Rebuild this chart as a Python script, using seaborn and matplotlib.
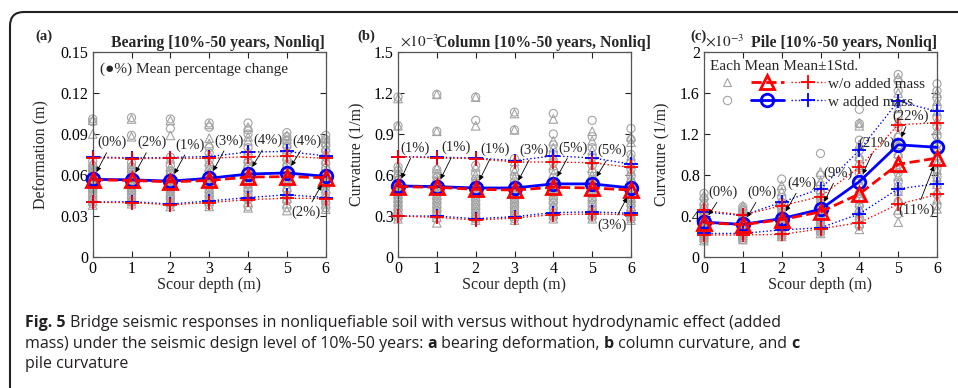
import matplotlib
matplotlib.use('Agg')
import matplotlib.pyplot as plt
import seaborn as sns
import pandas as pd
import numpy as np
from matplotlib.lines import Line2D
from matplotlib.patches import FancyBboxPatch
from matplotlib.transforms import IdentityTransform

# ---------------- data ----------------
depths = [0, 1, 2, 3, 4, 5, 6]

# (a) bearing deformation (m) - each record
bear_wo_each = [
    [0.100, 0.090, 0.069, 0.066, 0.063, 0.061, 0.059, 0.057, 0.055, 0.052, 0.050, 0.047, 0.044, 0.041, 0.038],
    [0.101, 0.088, 0.068, 0.065, 0.062, 0.060, 0.058, 0.056, 0.054, 0.051, 0.049, 0.046, 0.043, 0.041, 0.039],
    [0.100, 0.089, 0.072, 0.066, 0.063, 0.060, 0.057, 0.055, 0.052, 0.050, 0.047, 0.045, 0.042, 0.040, 0.037],
    [0.097, 0.087, 0.083, 0.075, 0.070, 0.066, 0.062, 0.059, 0.056, 0.053, 0.050, 0.047, 0.044, 0.041, 0.037],
    [0.095, 0.088, 0.085, 0.078, 0.072, 0.068, 0.064, 0.060, 0.057, 0.054, 0.051, 0.047, 0.044, 0.040, 0.036],
    [0.089, 0.086, 0.083, 0.079, 0.074, 0.069, 0.065, 0.061, 0.058, 0.055, 0.051, 0.047, 0.043, 0.039, 0.034],
    [0.087, 0.084, 0.080, 0.076, 0.071, 0.067, 0.063, 0.060, 0.057, 0.054, 0.050, 0.046, 0.042, 0.039, 0.035],
]
bear_w_each = [
    [0.101, 0.099, 0.070, 0.067, 0.064, 0.062, 0.060, 0.058, 0.055, 0.053, 0.050, 0.048, 0.045, 0.042, 0.039],
    [0.102, 0.089, 0.069, 0.066, 0.063, 0.060, 0.058, 0.056, 0.054, 0.052, 0.049, 0.047, 0.044, 0.041, 0.040],
    [0.101, 0.094, 0.073, 0.067, 0.063, 0.061, 0.058, 0.055, 0.053, 0.050, 0.048, 0.045, 0.043, 0.040, 0.038],
    [0.098, 0.095, 0.080, 0.076, 0.071, 0.067, 0.063, 0.060, 0.057, 0.054, 0.051, 0.048, 0.045, 0.042, 0.038],
    [0.098, 0.093, 0.090, 0.080, 0.074, 0.070, 0.066, 0.062, 0.059, 0.056, 0.053, 0.049, 0.046, 0.042, 0.037],
    [0.091, 0.088, 0.085, 0.081, 0.076, 0.071, 0.067, 0.063, 0.060, 0.057, 0.053, 0.049, 0.045, 0.041, 0.036],
    [0.089, 0.086, 0.082, 0.078, 0.073, 0.069, 0.065, 0.061, 0.058, 0.055, 0.051, 0.047, 0.043, 0.040, 0.036],
]
bear_wo_mean = [0.0565, 0.0560, 0.0550, 0.0560, 0.0585, 0.0588, 0.0580]
bear_w_mean = [0.0568, 0.0565, 0.0555, 0.0576, 0.0607, 0.0615, 0.0590]
bear_wo_hi = [0.0728, 0.0720, 0.0722, 0.0722, 0.0735, 0.0737, 0.0722]
bear_w_hi = [0.0732, 0.0725, 0.0728, 0.0735, 0.0768, 0.0772, 0.0740]
bear_wo_lo = [0.0400, 0.0398, 0.0382, 0.0398, 0.0420, 0.0430, 0.0428]
bear_w_lo = [0.0402, 0.0405, 0.0388, 0.0410, 0.0435, 0.0455, 0.0435]
bear_pct = ['(0%)', '(2%)', '(1%)', '(3%)', '(4%)', '(4%)', '(2%)']

# (b) column curvature (x1e-3 1/m)
col_wo_each = [
    [1.16, 0.96, 0.66, 0.62, 0.58, 0.55, 0.52, 0.49, 0.46, 0.43, 0.40, 0.37, 0.34, 0.31, 0.28],
    [1.19, 0.92, 0.65, 0.61, 0.57, 0.54, 0.51, 0.48, 0.45, 0.42, 0.39, 0.36, 0.33, 0.29, 0.25],
    [1.17, 0.96, 0.66, 0.60, 0.56, 0.53, 0.50, 0.47, 0.44, 0.41, 0.38, 0.35, 0.32, 0.29, 0.27],
    [1.05, 0.93, 0.70, 0.63, 0.58, 0.54, 0.51, 0.48, 0.45, 0.42, 0.39, 0.36, 0.33, 0.30, 0.27],
    [1.01, 0.85, 0.80, 0.74, 0.67, 0.61, 0.56, 0.52, 0.48, 0.45, 0.42, 0.38, 0.35, 0.31, 0.28],
    [0.92, 0.85, 0.78, 0.71, 0.65, 0.60, 0.55, 0.51, 0.47, 0.44, 0.40, 0.37, 0.34, 0.31, 0.28],
    [0.88, 0.84, 0.74, 0.68, 0.63, 0.58, 0.54, 0.50, 0.46, 0.43, 0.40, 0.37, 0.33, 0.30, 0.27],
]
col_w_each = [
    [1.17, 0.96, 0.66, 0.63, 0.59, 0.56, 0.53, 0.50, 0.47, 0.44, 0.41, 0.38, 0.35, 0.32, 0.29],
    [1.19, 0.92, 0.64, 0.61, 0.58, 0.55, 0.52, 0.49, 0.46, 0.43, 0.40, 0.37, 0.34, 0.31, 0.28],
    [1.17, 1.00, 0.67, 0.61, 0.57, 0.54, 0.51, 0.48, 0.45, 0.42, 0.39, 0.36, 0.33, 0.30, 0.28],
    [1.06, 0.93, 0.72, 0.64, 0.59, 0.55, 0.52, 0.49, 0.46, 0.43, 0.40, 0.37, 0.34, 0.31, 0.28],
    [1.05, 0.90, 0.82, 0.75, 0.69, 0.63, 0.58, 0.54, 0.50, 0.47, 0.43, 0.40, 0.36, 0.32, 0.29],
    [1.00, 0.88, 0.80, 0.73, 0.67, 0.62, 0.57, 0.53, 0.49, 0.46, 0.42, 0.39, 0.35, 0.32, 0.29],
    [0.94, 0.86, 0.75, 0.69, 0.64, 0.59, 0.55, 0.51, 0.48, 0.44, 0.41, 0.38, 0.34, 0.31, 0.28],
]
col_wo_mean = [0.515, 0.510, 0.495, 0.490, 0.510, 0.505, 0.490]
col_w_mean = [0.520, 0.515, 0.505, 0.505, 0.535, 0.535, 0.505]
col_wo_hi = [0.735, 0.725, 0.720, 0.695, 0.695, 0.690, 0.655]
col_w_hi = [0.735, 0.730, 0.725, 0.705, 0.740, 0.725, 0.680]
col_wo_lo = [0.300, 0.290, 0.270, 0.285, 0.310, 0.315, 0.310]
col_w_lo = [0.300, 0.300, 0.280, 0.295, 0.325, 0.330, 0.320]
col_pct = ['(1%)', '(1%)', '(1%)', '(3%)', '(5%)', '(5%)', '(3%)']

# (c) pile curvature (x1e-3 1/m)
pile_wo_each = [
    [0.60, 0.55, 0.50, 0.46, 0.42, 0.39, 0.36, 0.33, 0.30, 0.28, 0.26, 0.24, 0.22, 0.19, 0.16],
    [0.50, 0.47, 0.44, 0.41, 0.38, 0.35, 0.33, 0.31, 0.29, 0.27, 0.25, 0.23, 0.21, 0.19, 0.17],
    [0.70, 0.64, 0.56, 0.51, 0.47, 0.43, 0.40, 0.37, 0.34, 0.31, 0.29, 0.27, 0.25, 0.22, 0.20],
    [0.83, 0.74, 0.66, 0.60, 0.55, 0.50, 0.46, 0.43, 0.40, 0.37, 0.34, 0.31, 0.29, 0.26, 0.23],
    [1.31, 1.28, 1.10, 0.98, 0.88, 0.80, 0.72, 0.65, 0.59, 0.53, 0.48, 0.43, 0.38, 0.33, 0.27],
    [1.75, 1.60, 1.45, 1.32, 1.20, 1.10, 1.01, 0.93, 0.86, 0.79, 0.72, 0.64, 0.56, 0.46, 0.34],
    [1.60, 1.52, 1.42, 1.33, 1.24, 1.15, 1.07, 0.99, 0.92, 0.85, 0.78, 0.71, 0.64, 0.56, 0.47],
]
pile_w_each = [
    [0.62, 0.57, 0.51, 0.47, 0.43, 0.40, 0.37, 0.34, 0.31, 0.29, 0.27, 0.25, 0.22, 0.20, 0.17],
    [0.49, 0.46, 0.43, 0.40, 0.37, 0.35, 0.33, 0.31, 0.29, 0.27, 0.25, 0.23, 0.21, 0.19, 0.17],
    [0.76, 0.66, 0.58, 0.53, 0.48, 0.44, 0.41, 0.38, 0.35, 0.32, 0.30, 0.28, 0.25, 0.23, 0.20],
    [1.01, 0.80, 0.70, 0.63, 0.58, 0.53, 0.49, 0.45, 0.42, 0.39, 0.36, 0.33, 0.30, 0.27, 0.24],
    [1.44, 1.30, 1.14, 1.04, 0.96, 0.89, 0.82, 0.75, 0.69, 0.62, 0.56, 0.50, 0.44, 0.37, 0.30],
    [1.78, 1.72, 1.62, 1.50, 1.38, 1.27, 1.17, 1.08, 0.99, 0.90, 0.82, 0.73, 0.64, 0.54, 0.42],
    [1.69, 1.62, 1.55, 1.46, 1.36, 1.27, 1.18, 1.10, 1.02, 0.94, 0.86, 0.78, 0.70, 0.61, 0.50],
]
pile_wo_mean = [0.335, 0.315, 0.365, 0.440, 0.615, 0.905, 0.965]
pile_w_mean = [0.340, 0.318, 0.375, 0.465, 0.735, 1.095, 1.070]
pile_wo_hi = [0.455, 0.410, 0.500, 0.590, 0.875, 1.290, 1.310]
pile_w_hi = [0.440, 0.405, 0.535, 0.665, 1.040, 1.520, 1.420]
pile_wo_lo = [0.215, 0.215, 0.220, 0.275, 0.335, 0.515, 0.610]
pile_w_lo = [0.230, 0.230, 0.265, 0.285, 0.420, 0.665, 0.715]
pile_pct = ['(0%)', '(0%)', '(4%)', '(9%)', '(21%)', '(22%)', '(11%)']

# ---------------- style ----------------
sns.set_theme(style='ticks')
plt.rcParams['font.family'] = ['Liberation Serif', 'DejaVu Serif']
plt.rcParams['mathtext.fontset'] = 'stix'
GRAY = '#a3a3a3'
RED = '#ff0000'
BLUE = '#0000ff'

fig = plt.figure(figsize=(9.58, 3.88), dpi=100)
W, H = 958.0, 388.0


def add_panel(left_px):
    return fig.add_axes([left_px / W, 1 - 257 / H, 233 / W, 205 / H])


def long_df(each):
    return pd.DataFrame({
        'depth': np.repeat(depths, [len(v) for v in each]),
        'value': np.concatenate(each),
    })


def draw(ax, wo_each, w_each, wo_mean, w_mean, wo_hi, w_hi, wo_lo, w_lo, ymax, yticks):
    sns.scatterplot(data=long_df(wo_each), x='depth', y='value', marker='^', s=38,
                    facecolor='none', edgecolor=GRAY, linewidth=0.8, ax=ax,
                    clip_on=False, zorder=1, legend=False)
    sns.scatterplot(data=long_df(w_each), x='depth', y='value', marker='o', s=34,
                    facecolor='none', edgecolor=GRAY, linewidth=0.8, ax=ax,
                    clip_on=False, zorder=1, legend=False)
    for ys, c in [(w_hi, BLUE), (w_lo, BLUE), (wo_hi, RED), (wo_lo, RED)]:
        sns.lineplot(x=depths, y=ys, color=c, lw=1.0, ls=':', marker='+', ms=10,
                     mec=c, mew=1.3, ax=ax, clip_on=False, zorder=3, estimator=None)
    sns.lineplot(x=depths, y=w_mean, color=BLUE, lw=2, marker='o', ms=9, mfc='none',
                 mec=BLUE, mew=2, ax=ax, clip_on=False, zorder=4, estimator=None)
    sns.lineplot(x=depths, y=wo_mean, color=RED, lw=2, ls='--', marker='^', ms=9.5,
                 mfc='none', mec=RED, mew=2, ax=ax, clip_on=False, zorder=5, estimator=None)
    ax.set_xlim(0, 6)
    ax.set_ylim(0, ymax)
    ax.set_xticks(depths)
    ax.set_yticks(yticks)
    ax.tick_params(direction='in', top=True, right=True, length=4, width=0.8,
                   labelsize=11.5, pad=3, colors='#222222', labelcolor='black')
    for s in ax.spines.values():
        s.set_color('#555555')
        s.set_linewidth(0.9)
    ax.set_xlabel('Scour depth (m)', fontsize=11.5)
    ax.xaxis.set_label_coords(0.5, -0.098)


def annotate(ax, labels, text_pos, target_means):
    for i, lab in enumerate(labels):
        tm = target_means[i]
        ax.annotate(lab, xy=(depths[i], tm[i]), xytext=text_pos[i], textcoords='data',
                    fontsize=10.5, ha='center', va='center', zorder=6,
                    arrowprops=dict(arrowstyle='-|>', color='black', lw=0.6,
                                    mutation_scale=7, shrinkA=0, shrinkB=6))


# (a)
ax1 = add_panel(92.7)
draw(ax1, bear_wo_each, bear_w_each, bear_wo_mean, bear_w_mean, bear_wo_hi, bear_w_hi,
     bear_wo_lo, bear_w_lo, 0.15, [0, 0.03, 0.06, 0.09, 0.12, 0.15])
ax1.set_yticklabels(['0', '0.03', '0.06', '0.09', '0.12', '0.15'])
ax1.set_ylabel('Deformation (m)', fontsize=11.5)
ax1.yaxis.set_label_coords(-0.185, 0.5)
annotate(ax1, bear_pct,
         [(0.49, 0.0836), (1.52, 0.0836), (2.51, 0.082), (3.52, 0.085), (4.52, 0.0856),
          (5.51, 0.085), (5.5, 0.033)],
         [bear_w_mean] * 6 + [bear_wo_mean])
ax1.text(0.031, 0.917, '(\u25cf%) Mean percentage change', transform=ax1.transAxes,
         fontsize=11, va='center', ha='left')
ax1.text(-0.248, 1.058, '(a)', transform=ax1.transAxes, fontsize=10.5, fontweight='bold')
ax1.text(0.997, 1.026, 'Bearing [10%-50 years, Nonliq]', transform=ax1.transAxes,
         fontsize=11.3, fontweight='bold', ha='right')

# (b)
ax2 = add_panel(398)
draw(ax2, col_wo_each, col_w_each, col_wo_mean, col_w_mean, col_wo_hi, col_w_hi,
     col_wo_lo, col_w_lo, 1.5, [0, 0.3, 0.6, 0.9, 1.2, 1.5])
ax2.set_yticklabels(['0', '0.3', '0.6', '0.9', '1.2', '1.5'])
ax2.set_ylabel('Curvature (1/m)', fontsize=11.5)
ax2.yaxis.set_label_coords(-0.139, 0.5)
annotate(ax2, col_pct,
         [(0.44, 0.795), (1.5, 0.80), (2.49, 0.788), (3.51, 0.783), (4.5, 0.795),
          (5.52, 0.778), (5.52, 0.234)],
         [col_w_mean] * 6 + [col_wo_mean])
ax2.text(-0.176, 1.058, '(b)', transform=ax2.transAxes, fontsize=10.5, fontweight='bold')
ax2.text(0.009, 1.026, r'$\times10^{-3}$', transform=ax2.transAxes, fontsize=11)
ax2.text(0.165, 1.026, 'Column [10%-50 years, Nonliq]', transform=ax2.transAxes,
         fontsize=11.3, fontweight='bold', ha='left')

# (c)
ax3 = add_panel(704)
draw(ax3, pile_wo_each, pile_w_each, pile_wo_mean, pile_w_mean, pile_wo_hi, pile_w_hi,
     pile_wo_lo, pile_w_lo, 2.0, [0, 0.4, 0.8, 1.2, 1.6, 2.0])
ax3.set_yticklabels(['0', '0.4', '0.8', '1.2', '1.6', '2'])
ax3.set_ylabel('Curvature (1/m)', fontsize=11.5)
ax3.yaxis.set_label_coords(-0.144, 0.5)
annotate(ax3, pile_pct,
         [(0.5, 0.631), (1.49, 0.63), (2.52, 0.72), (3.46, 0.817), (4.45, 1.11),
          (5.31, 1.37), (5.48, 0.46)],
         [pile_w_mean] * 6 + [pile_wo_mean])
ax3.text(-0.06, 1.058, '(c)', transform=ax3.transAxes, fontsize=10.5, fontweight='bold')
ax3.text(0.004, 1.026, r'$\times10^{-3}$', transform=ax3.transAxes, fontsize=11)
ax3.text(1.0, 1.026, 'Pile [10%-50 years, Nonliq]', transform=ax3.transAxes,
         fontsize=11.3, fontweight='bold', ha='right')

handles = [
    Line2D([], [], ls='none', marker='^', mfc='none', mec=GRAY, ms=6, mew=0.8),
    Line2D([], [], ls='none', marker='o', mfc='none', mec=GRAY, ms=6, mew=0.8),
    Line2D([], [], color=RED, ls='--', lw=2, marker='^', mfc='none', mec=RED, mew=2, ms=9.5),
    Line2D([], [], color=BLUE, ls='-', lw=2, marker='o', mfc='none', mec=BLUE, mew=2, ms=9),
    Line2D([], [], color=RED, ls=':', lw=1, marker='+', ms=10, mew=1.3),
    Line2D([], [], color=BLUE, ls=':', lw=1, marker='+', ms=10, mew=1.3),
]
ax3.legend(handles, ['', '', '', '', 'w/o added mass', 'w added mass'], ncol=3,
           title='Each Mean Mean\u00b11Std.', alignment='left', frameon=False,
           loc='upper left', bbox_to_anchor=(0.026, 0.962), borderaxespad=0, borderpad=0,
           handlelength=2.2, handletextpad=0.2, columnspacing=0.25, labelspacing=0.28,
           fontsize=11, title_fontsize=11)

# frame and caption
frame = FancyBboxPatch((10, -60), 1000, 376 + 60, boxstyle='round,pad=0,rounding_size=14',
                       transform=IdentityTransform(), fill=False, edgecolor='#222222', lw=1.5)
fig.add_artist(frame)

cap_font = ['Open Sans', 'DejaVu Sans']
cap_lines = [
    [('Fig. 5', 'bold'), (' Bridge seismic responses in nonliquefiable soil with versus without '
                         'hydrodynamic effect (added', 'normal')],
    [('mass) under the seismic design level of 10%-50 years: ', 'normal'), ('a', 'bold'),
     (' bearing deformation, ', 'normal'), ('b', 'bold'), (' column curvature, and ', 'normal'),
     ('c', 'bold')],
    [('pile curvature', 'normal')],
]
cap_base = [326.7, 347.7, 368.3]
renderer = fig.canvas.get_renderer()
for line, yb in zip(cap_lines, cap_base):
    x_px = 25.0
    for txt, wt in line:
        t = fig.text(x_px / W, 1 - yb / H, txt, fontsize=11.5, fontweight=wt,
                     family=cap_font, va='baseline', ha='left', color='#231f20')
        x_px = t.get_window_extent(renderer).x1

fig.savefig('out.png', dpi=100)
